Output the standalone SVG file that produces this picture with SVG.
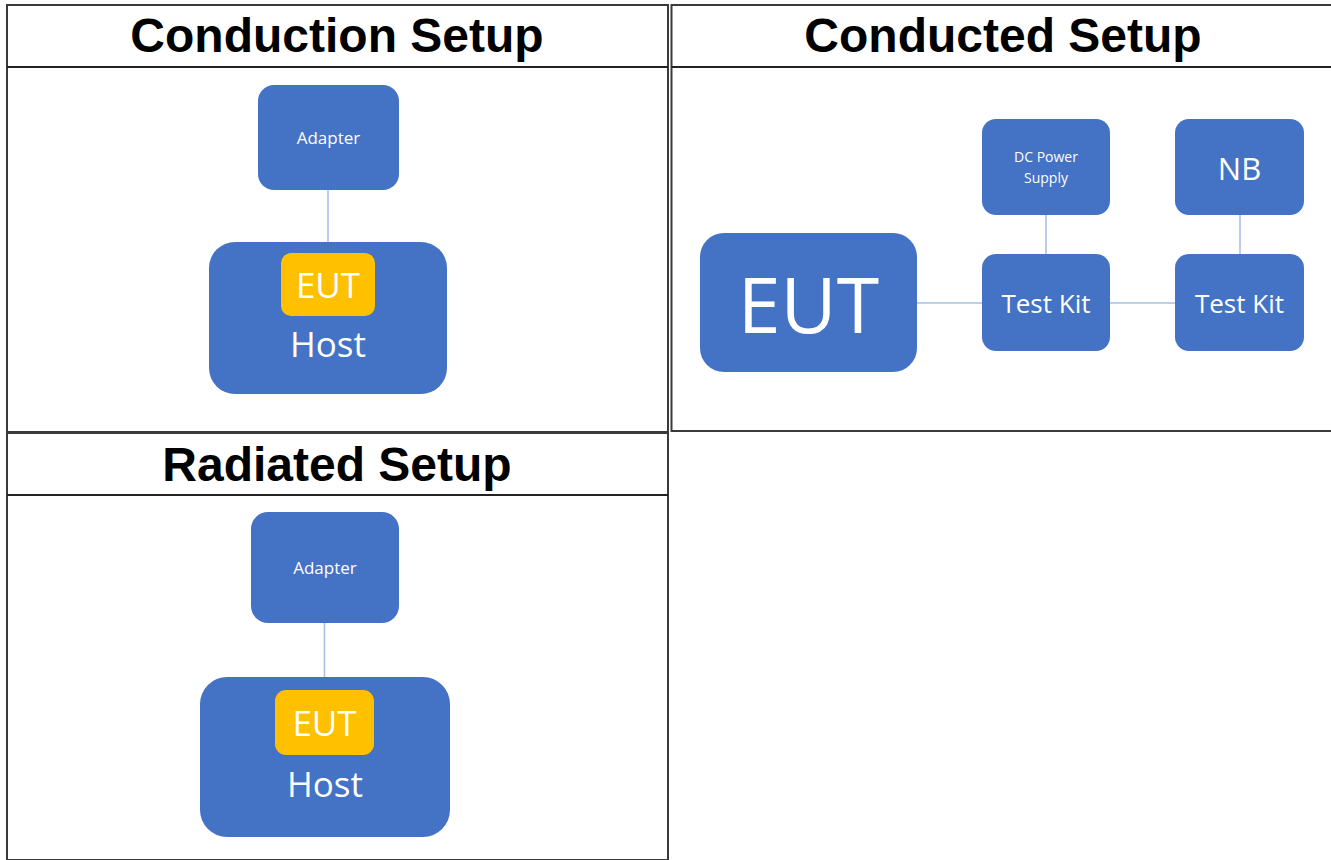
<svg xmlns="http://www.w3.org/2000/svg" width="1331" height="860" viewBox="0 0 1331 860">
  <style>
    .frame { fill: none; stroke: #3a3a3a; stroke-width: 2; }
    .div { stroke: #222; stroke-width: 2.2; }
    .title { font-family: "Liberation Sans", Arial, sans-serif; font-weight: bold; font-size: 48px; fill: #000; text-anchor: middle; }
    .box { fill: #4472C4; }
    .eut { fill: #FFC000; }
    .lbl { font-family: "Open Sans", "Noto Sans", sans-serif; fill: #fff; text-anchor: middle; }
    .conn { stroke: #A9BFE6; stroke-width: 1.6; fill: none; }
  </style>
  <rect x="0" y="0" width="1331" height="860" fill="#fff"/>

  <g id="panel-conduction">
    <rect class="frame" x="7" y="5" width="661" height="427"/>
    <line class="div" x1="7" y1="67" x2="668" y2="67"/>
    <text class="title" x="337" y="52">Conduction Setup</text>
  </g>
  <g id="panel-conducted">
    <rect class="frame" x="671.5" y="5" width="665" height="426"/>
    <line class="div" x1="671.5" y1="67" x2="1331" y2="67"/>
    <text class="title" x="1003" y="52">Conducted Setup</text>
  </g>
  <g id="panel-radiated">
    <rect class="frame" x="7" y="433" width="661" height="427"/>
    <line class="div" x1="7" y1="495" x2="668" y2="495"/>
    <text class="title" x="337" y="481">Radiated Setup</text>
  </g>

  <g id="connectors">
    <line class="conn" x1="328" y1="190" x2="328" y2="242"/>
    <line class="conn" x1="917" y1="303" x2="982" y2="303"/>
    <line class="conn" x1="1110" y1="303" x2="1175" y2="303"/>
    <line class="conn" x1="1046" y1="215" x2="1046" y2="254"/>
    <line class="conn" x1="1240" y1="215" x2="1240" y2="254"/>
    <line class="conn" x1="324.5" y1="623" x2="324.5" y2="677"/>
  </g>

  <g id="c-adapter">
    <rect class="box" x="258" y="85" width="141" height="105" rx="16"/>
    <text class="lbl" x="328.5" y="144" font-size="17">Adapter</text>
  </g>
  <g id="c-host">
    <rect class="box" x="209" y="242" width="238" height="152" rx="26"/>
    <text class="lbl" x="328" y="357" font-size="35">Host</text>
  </g>
  <g id="c-eut">
    <rect class="eut" x="281" y="253" width="94" height="63" rx="10"/>
    <text class="lbl" x="328" y="298" font-size="35">EUT</text>
  </g>

  <g id="d-eut">
    <rect class="box" x="700" y="233" width="217" height="139" rx="24"/>
    <text class="lbl" x="808.5" y="333" font-size="77">EUT</text>
  </g>
  <g id="d-dcpower">
    <rect class="box" x="982" y="119" width="128" height="96" rx="14"/>
    <text class="lbl" x="1046" y="162" font-size="14">DC Power</text>
    <text class="lbl" x="1046" y="183" font-size="14">Supply</text>
  </g>
  <g id="d-nb">
    <rect class="box" x="1175" y="119" width="129" height="96" rx="14"/>
    <text class="lbl" x="1239.5" y="180" font-size="31">NB</text>
  </g>
  <g id="d-testkit1">
    <rect class="box" x="982" y="254" width="128" height="97" rx="14"/>
    <text class="lbl" x="1046" y="313" font-size="26">Test Kit</text>
  </g>
  <g id="d-testkit2">
    <rect class="box" x="1175" y="254" width="129" height="97" rx="14"/>
    <text class="lbl" x="1239.5" y="313" font-size="26">Test Kit</text>
  </g>

  <g id="r-adapter">
    <rect class="box" x="251" y="512" width="148" height="111" rx="17"/>
    <text class="lbl" x="325" y="574" font-size="17">Adapter</text>
  </g>
  <g id="r-host">
    <rect class="box" x="200" y="677" width="250" height="160" rx="27"/>
    <text class="lbl" x="325" y="797" font-size="35">Host</text>
  </g>
  <g id="r-eut">
    <rect class="eut" x="275" y="690" width="99" height="65" rx="11"/>
    <text class="lbl" x="324.5" y="736" font-size="35">EUT</text>
  </g>
</svg>
